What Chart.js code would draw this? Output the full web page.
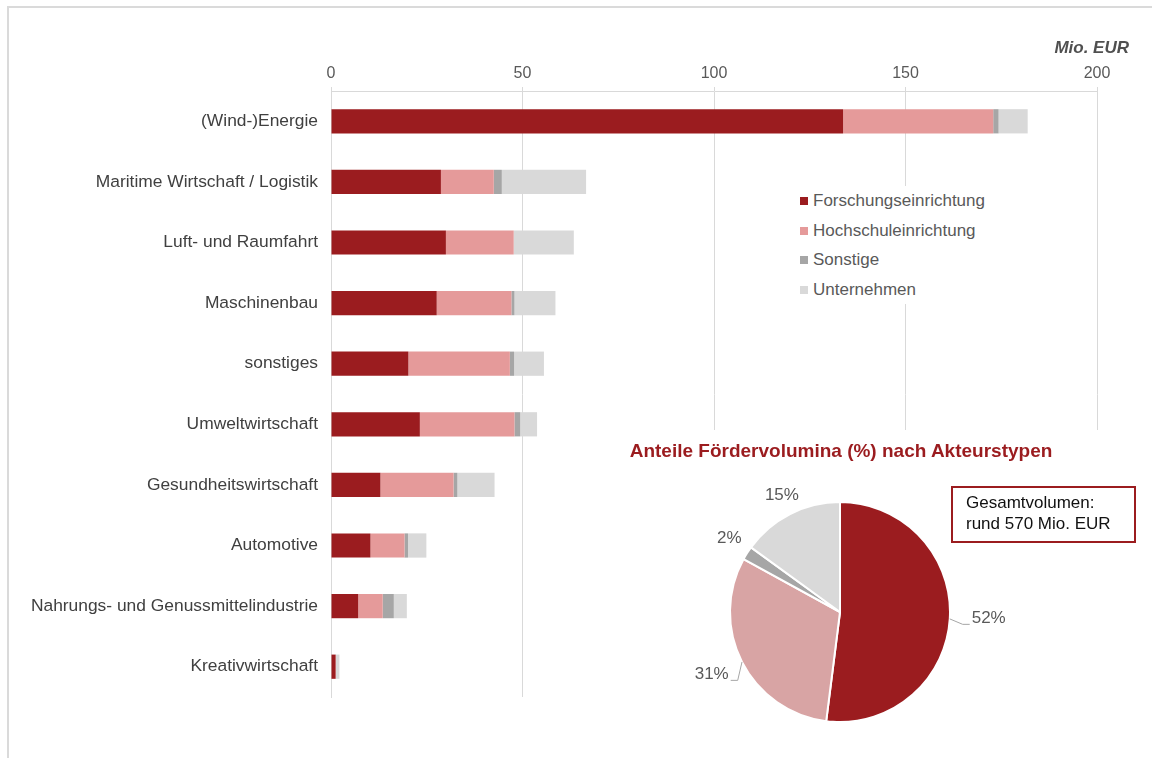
<!DOCTYPE html>
<html>
<head>
<meta charset="utf-8">
<script src="https://cdn.jsdelivr.net/npm/chart.js@4.4.0/dist/chart.umd.min.js"></script>
<style>
    body { margin: 0; background: #fff; font-family: 'Liberation Sans', Arial, sans-serif; }
    #wrap { position: relative; width: 1152px; height: 758px; overflow: hidden; }
    #frame { position: absolute; left: 7px; top: 6px; width: 1300px; height: 900px;
             border-top: 2px solid #DADADA; border-left: 2px solid #DADADA; }
    #barChart { position: absolute; left: 0; top: 0; }
    #unit { position: absolute; right: 23px; top: 38px; font-size: 17px; line-height: 20px;
            font-weight: bold; font-style: italic; color: #505050; }
    #legend { position: absolute; left: 793px; top: 186px; width: 200px; height: 118px; background: #fff; }
    .item { position: relative; height: 29.5px; line-height: 29.5px; font-size: 17px; color: #595959; padding-left: 20px; }
    .item span { position: absolute; left: 7px; top: 11px; width: 8px; height: 8px; }
    #inset { position: absolute; left: 620px; top: 430px; width: 525px; height: 328px; background: #fff; }
    #pieChart { position: absolute; left: 0; top: 0; }
    #pieTitle { position: absolute; left: 0; width: 442px; top: 10px; text-align: center;
                font-size: 19px; line-height: 22px; font-weight: bold; color: #9B1C1F; }
    #totalBox { position: absolute; left: 331px; top: 56px; width: 168px; height: 45px;
                border: 2px solid #9B1C1F; padding: 4px 0 4px 13px; font-size: 17px; line-height: 21px; color: #111; }
</style>
</head>
<body>
<div id="wrap">
    <div id="frame"></div>
    <canvas id="barChart" width="1152" height="758"></canvas>
    <div id="unit">Mio. EUR</div>
    <div id="legend"></div>
    <div id="inset">
        <canvas id="pieChart" width="525" height="328"></canvas>
        <div id="pieTitle">Anteile Fördervolumina (%) nach Akteurstypen</div>
        <div id="totalBox">Gesamtvolumen:<br>rund 570 Mio. EUR</div>
    </div>
</div>
<script>
// Daten (Mio. EUR)
const categories = ['(Wind-)Energie', 'Maritime Wirtschaft / Logistik', 'Luft- und Raumfahrt', 'Maschinenbau',
    'sonstiges', 'Umweltwirtschaft', 'Gesundheitswirtschaft', 'Automotive',
    'Nahrungs- und Genussmittelindustrie', 'Kreativwirtschaft'];
const forschung   = [133.7, 28.7, 30.0, 27.6, 20.2, 23.2, 12.9, 10.3, 7.1, 1.2];
const hochschule  = [39.2, 13.8, 17.7, 19.5, 26.5, 24.7, 19.1, 8.9, 6.4, 0.1];
const sonstige    = [1.4, 2.1, 0.0, 0.8, 1.1, 1.5, 1.0, 0.9, 2.9, 0.0];
const unternehmen = [7.6, 22.0, 15.7, 10.7, 7.8, 4.4, 9.7, 4.8, 3.4, 0.9];
const seriesNames = ['Forschungseinrichtung', 'Hochschuleinrichtung', 'Sonstige', 'Unternehmen'];
const xTicks = [0, 50, 100, 150, 200];

// Anteile in %
const pieShares = [52, 31, 2, 15];

const barColors = ['#9B1C1F', '#E59A9A', '#A6A6A6', '#D9D9D9'];
const pieColors = ['#9B1C1F', '#D8A4A4', '#A6A6A6', '#D9D9D9'];

Chart.defaults.font.family = "'Liberation Sans', Arial, sans-serif";

// Balkendiagramm
const barChart = new Chart(document.getElementById('barChart'), {
    type: 'bar',
    data: {
        labels: categories,
        datasets: [forschung, hochschule, sonstige, unternehmen].map((values, i) => ({
            label: seriesNames[i],
            data: values,
            backgroundColor: barColors[i],
            borderWidth: 0,
            categoryPercentage: 1,
            barPercentage: 0.4
        }))
    },
    options: {
        indexAxis: 'y',
        responsive: false,
        animation: false,
        layout: { padding: { left: 0, right: 55, top: 0, bottom: 61 } },
        plugins: { legend: { display: false }, tooltip: { enabled: false } },
        scales: {
            x: {
                position: 'top',
                stacked: true,
                min: xTicks[0],
                max: xTicks[xTicks.length - 1],
                afterFit: s => { s.height = 91; },
                afterBuildTicks: s => { s.ticks = xTicks.map(v => ({ value: v })); },
                ticks: { color: '#595959', font: { size: 16 }, padding: 4 },
                grid: { color: '#D9D9D9', tickLength: 4 },
                border: { color: '#D9D9D9' }
            },
            y: {
                stacked: true,
                afterFit: s => { s.width = 331; },
                grid: { display: false, drawTicks: false },
                border: { color: '#D9D9D9' },
                ticks: { color: '#404040', font: { size: 17.4 }, padding: 13 }
            }
        }
    }
});

// Legende
const legend = document.getElementById('legend');
seriesNames.forEach((name, i) => {
    legend.innerHTML += `<div class="item"><span style="background:${barColors[i]}"></span>${name}</div>`;
});

// Beschriftungen am Kreisdiagramm
const pieLabels = {
    id: 'pieLabels',
    dist: [149, 144, 131, 128],
    leader: [true, true, false, false],
    afterDatasetsDraw(chart) {
        const ctx = chart.ctx;
        const meta = chart.getDatasetMeta(0);
        ctx.save();
        ctx.font = "17px 'Liberation Sans', Arial, sans-serif";
        ctx.fillStyle = '#595959';
        ctx.textAlign = 'center';
        ctx.textBaseline = 'middle';
        meta.data.forEach((arc, i) => {
            const mid = (arc.startAngle + arc.endAngle) / 2;
            const lx = arc.x + Math.cos(mid) * pieLabels.dist[i];
            const ly = arc.y + Math.sin(mid) * pieLabels.dist[i] - 3;
            const text = chart.data.datasets[0].data[i] + '%';
            const w = ctx.measureText(text).width;
            if (pieLabels.leader[i]) {
                const side = Math.cos(mid) >= 0 ? -1 : 1;
                const edge = lx + side * (w / 2 + 2);
                ctx.strokeStyle = '#A6A6A6';
                ctx.lineWidth = 1;
                ctx.beginPath();
                ctx.moveTo(arc.x + Math.cos(mid) * arc.outerRadius, arc.y + Math.sin(mid) * arc.outerRadius);
                ctx.lineTo(edge + side * 7, ly + 6);
                ctx.lineTo(edge, ly + 6);
                ctx.stroke();
            }
            ctx.fillText(text, lx, ly);
        });
        ctx.restore();
    }
};

const pieChart = new Chart(document.getElementById('pieChart'), {
    type: 'pie',
    data: {
        labels: seriesNames,
        datasets: [{
            data: pieShares,
            backgroundColor: pieColors,
            borderColor: '#ffffff',
            borderWidth: 2
        }]
    },
    options: {
        responsive: false,
        animation: false,
        layout: { padding: { left: 109, top: 71, right: 194, bottom: 35 } },
        plugins: { legend: { display: false }, tooltip: { enabled: false } }
    },
    plugins: [pieLabels]
});
</script>
</body>
</html>
